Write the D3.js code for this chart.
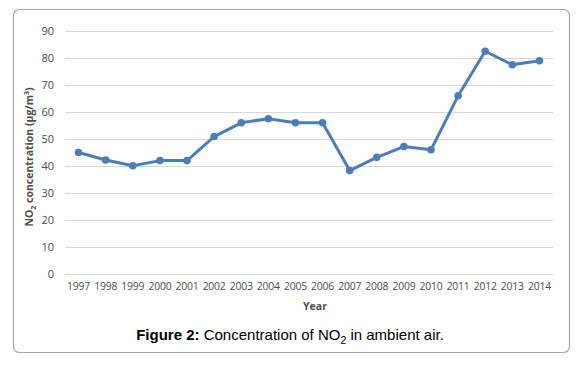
<!DOCTYPE html>
<html>
<head>
<meta charset="utf-8">
<script src="https://cdn.jsdelivr.net/npm/d3@7"></script>
<style>
  body { margin: 0; background: #fff; }
  svg { display: block; }
</style>
</head>
<body>
<div id="chart"></div>
<script>
const years = ['1997','1998','1999','2000','2001','2002','2003','2004','2005','2006','2007','2008','2009','2010','2011','2012','2013','2014'];
const no2 = [45, 42.2, 40.1, 42, 42, 50.9, 56, 57.5, 56, 56, 38.3, 43.2, 47.2, 46, 66, 82.5, 77.5, 79];
const yTicks = [0, 10, 20, 30, 40, 50, 60, 70, 80, 90];

const width = 586, height = 366;
const plot = { left: 65, right: 553, top: 31, bottom: 274 };
const grey = '#4d4d4d';
const blue = '#4a7ebb';

const svg = d3.select('#chart').append('svg')
    .attr('width', width)
    .attr('height', height);

// frame
svg.append('rect')
    .attr('x', 13.5).attr('y', 9.5)
    .attr('width', 556).attr('height', 343)
    .attr('rx', 6)
    .attr('fill', '#fff')
    .attr('stroke', '#a6a6a6')
    .attr('stroke-width', 1.2);

const x = d3.scaleBand().domain(years).range([plot.left, plot.right]);
const y = d3.scaleLinear().domain([0, 90]).range([plot.bottom, plot.top]);

// gridlines + y labels
const yAxis = svg.append('g')
    .attr('transform', `translate(${plot.left},0)`)
    .call(d3.axisLeft(y).tickValues(yTicks).tickSize(-(plot.right - plot.left)).tickPadding(11));
yAxis.select('.domain').remove();
yAxis.selectAll('.tick line').attr('stroke', '#d9d9d9').attr('stroke-width', 1);
yAxis.selectAll('.tick text')
    .attr('fill', grey)
    .style('font-family', 'Open Sans, sans-serif')
    .style('font-size', '11px');

// x labels
const xAxis = svg.append('g')
    .attr('transform', `translate(0,${plot.bottom})`)
    .call(d3.axisBottom(x).tickSize(0).tickPadding(9));
xAxis.select('.domain').remove();
xAxis.selectAll('.tick text')
    .attr('fill', grey)
    .style('font-family', 'Open Sans, sans-serif')
    .style('font-size', '10.4px')
    .style('letter-spacing', '-0.2px');

// line
const cx = d => x(d) + x.bandwidth() / 2;
const line = d3.line()
    .x((d, i) => cx(years[i]))
    .y(d => y(d));

svg.append('path')
    .datum(no2)
    .attr('d', line)
    .attr('fill', 'none')
    .attr('stroke', blue)
    .attr('stroke-width', 3)
    .attr('stroke-linejoin', 'round');

svg.selectAll('.dot')
    .data(no2)
    .enter().append('circle')
    .attr('class', 'dot')
    .attr('cx', (d, i) => cx(years[i]))
    .attr('cy', d => y(d))
    .attr('r', 3.8)
    .attr('fill', blue);

// axis titles
svg.append('text')
    .attr('x', (plot.left + plot.right) / 2 + 6)
    .attr('y', 310)
    .attr('text-anchor', 'middle')
    .attr('fill', grey)
    .style('font-family', 'Open Sans, sans-serif')
    .style('font-size', '10.5px')
    .style('font-weight', 'bold')
    .text('Year');

const yt = svg.append('text')
    .attr('transform', 'translate(33,157) rotate(-90)')
    .attr('text-anchor', 'middle')
    .attr('fill', grey)
    .style('font-family', 'Open Sans, sans-serif')
    .style('font-size', '10.5px')
    .style('font-weight', 'bold');
yt.append('tspan').text('NO');
yt.append('tspan').attr('dy', 3).style('font-size', '7px').text('2');
yt.append('tspan').attr('dy', -3).text(' concentration (µg/m');
yt.append('tspan').attr('dy', -4).style('font-size', '7px').text('3');
yt.append('tspan').attr('dy', 4).text(')');

// caption
const cap = svg.append('text')
    .attr('x', 290)
    .attr('y', 340)
    .attr('text-anchor', 'middle')
    .attr('fill', '#000')
    .style('font-family', 'Liberation Sans, Arial, sans-serif')
    .style('font-size', '15px');
cap.append('tspan').style('font-weight', 'bold').text('Figure 2:');
cap.append('tspan').text(' Concentration of NO');
cap.append('tspan').attr('dy', 4).style('font-size', '10.5px').text('2');
cap.append('tspan').attr('dy', -4).text(' in ambient air.');
</script>
</body>
</html>
